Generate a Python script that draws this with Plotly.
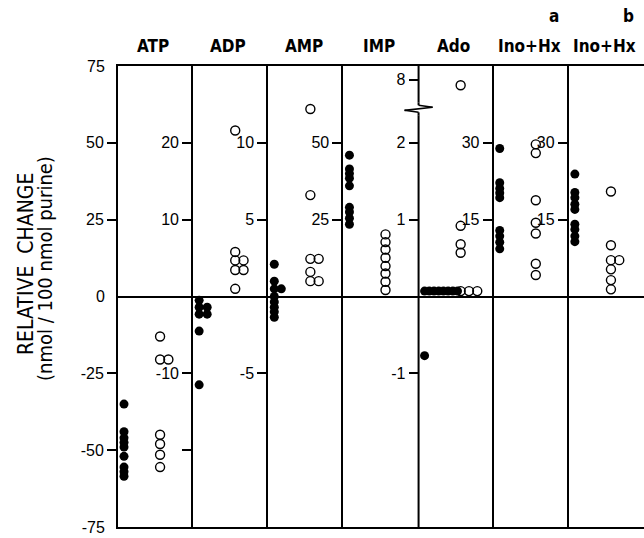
import plotly.graph_objects as go
from plotly.subplots import make_subplots

# ---------------- data (each panel read on its own scale) ----------------
panel_names = ["ATP", "ADP", "AMP", "IMP", "Ado", "Ino+Hx", "Ino+Hx"]
panel_tags = ["", "", "", "", "", "a", "b"]
# half-range of each panel's own y scale (all panels share the same height)
panel_half_range = [75, 30, 15, 75, 3, 45, 45]

atp_filled = [-35, -44, -46, -47.5, -49, -52, -55.5, -57, -58.5]
atp_open = [-13, -20.5, -20.5, -45, -48, -51.5, -55.5]

adp_filled = [-0.5, -1.4, -1.4, -2.3, -2.3, -4.5, -11.5]
adp_open = [21.6, 5.8, 4.7, 4.7, 3.45, 3.45, 1.0]

amp_filled = [2.1, 1.0, 0.5, 0.5, 0.0, -0.35, -0.7, -1.0, -1.35]
amp_open = [12.2, 6.6, 2.45, 2.45, 1.6, 1.0, 1.0]

imp_filled = [46, 41.5, 40, 38.5, 36, 29, 27.5, 25.5, 23.5]
imp_open = [20.2, 17.7, 15.3, 12.6, 9.9, 7.5, 4.8, 2.1]

ado_filled = [0.07, 0.07, 0.07, 0.07, 0.07, 0.07, 0.07, 0.07, -0.77]
ado_open = [7.0, 0.92, 0.68, 0.57, 0.07, 0.07, 0.07]

inoa_filled = [28.9, 22.2, 21.1, 20.2, 19.3, 12.9, 11.8, 10.6, 9.3]
inoa_open = [29.7, 28.0, 18.8, 14.4, 12.3, 6.4, 4.2]

inob_filled = [23.9, 20.3, 19.3, 18.0, 17.0, 14.1, 13.1, 11.8, 10.7]
inob_open = [20.5, 10.0, 7.1, 7.1, 5.3, 3.2, 1.4]

filled_sets = [atp_filled, adp_filled, amp_filled, imp_filled, ado_filled, inoa_filled, inob_filled]
open_sets = [atp_open, adp_open, amp_open, imp_open, ado_open, inoa_open, inob_open]

tick_values = [[-50, -25, 25, 50], [-20, -10, 10, 20], [-5, 5, 10], [25, 50],
               [-1, 1, 2, 8], [15, 30], [15, 30]]
tick_labels = [["-50", "-25", "25", "50"], ["", "-10", "10", "20"], ["-5", "5", "10"],
               ["25", "50"], ["-1", "1", "2", "8"], ["15", "30"], ["15", "30"]]
main_extra_ticks = [-75, 0, 75]
main_extra_labels = ["-75", "0", "75"]

# ---------------- style ----------------
FONT = "Liberation Sans, Arial, Helvetica, sans-serif"
TITLE_FONT = "DejaVu Sans Condensed, Liberation Sans, Arial, sans-serif"
PANEL_W = 75.0           # x range of each panel (pixel-like units)
FILLED_X, OPEN_X = 6.0, 42.0
FILLED_STEP = [8, 8, 7, 8, 4.7, 8, 8]
OPEN_STEP = 8.3
TICKLEN = 9
W, H = 644, 538
ML, MR, MT, MB = 118, 0, 66, 11

# Ado panel: broken axis, values above the break on a compressed segment
ADO_BREAK = 2.4


def to_axis(panel, v):
    if panel == 4 and v > ADO_BREAK:
        return 2.82 + (v - 8) * 0.07
    return v


def dodge(vals, base, step):
    seen = {}
    xs = []
    for v in vals:
        k = seen.get(v, 0)
        seen[v] = k + 1
        xs.append(base + k * step)
    return xs


def px_x(p):
    return (p - ML) / (W - ML - MR)


def px_y(p):
    return (H - MB - p) / (H - MB - MT)


fig = make_subplots(rows=1, cols=7, horizontal_spacing=0)

for i in range(7):
    col = i + 1
    fv, ov = filled_sets[i], open_sets[i]
    fig.add_trace(go.Scatter(
        x=dodge(fv, FILLED_X, FILLED_STEP[i]), y=[to_axis(i, v) for v in fv],
        mode="markers", showlegend=False, cliponaxis=False,
        marker=dict(symbol="circle", size=9, color="black")), row=1, col=col)
    fig.add_trace(go.Scatter(
        x=dodge(ov, OPEN_X, OPEN_STEP), y=[to_axis(i, v) for v in ov],
        mode="markers", showlegend=False, cliponaxis=False,
        marker=dict(symbol="circle-open", size=9, color="black", line=dict(width=1.4))),
        row=1, col=col)

    h = panel_half_range[i]
    fig.update_yaxes(
        range=[-h, h], tickvals=[to_axis(i, v) for v in tick_values[i]], ticktext=tick_labels[i],
        ticks="outside", ticklen=TICKLEN, tickwidth=1.6, tickcolor="black",
        showline=(i != 4), linewidth=2, linecolor="black", mirror=False,
        zeroline=True, zerolinewidth=2, zerolinecolor="black", showgrid=False,
        tickfont=dict(family=FONT, size=16, color="black"), row=1, col=col)
    fig.update_xaxes(
        range=[0, PANEL_W], showline=True, mirror=True, linewidth=2, linecolor="black",
        showticklabels=False, ticks="", showgrid=False, zeroline=False, row=1, col=col)

    # panel header
    fig.add_annotation(text="<b>%s</b>" % panel_names[i], xref="x%s domain" % ("" if col == 1 else col),
                       x=0.47, yref="paper", y=px_y(46), showarrow=False, xanchor="center", yanchor="middle",
                       font=dict(family=TITLE_FONT, size=17, color="black"))
    if panel_tags[i]:
        fig.add_annotation(text="<b>%s</b>" % panel_tags[i], xref="x%d domain" % col,
                           x=0.8, yref="paper", y=px_y(16), showarrow=False,
                           xanchor="center", yanchor="middle",
                           font=dict(family=TITLE_FONT, size=17, color="black"))

# label-only ticks of the main scale (0 and the ends)
fig.add_trace(go.Scatter(x=[None], y=[None], xaxis="x", yaxis="y8", showlegend=False))
fig.update_layout(yaxis8=dict(
    overlaying="y", anchor="x", side="left", range=[-75, 75],
    tickvals=main_extra_ticks, ticktext=main_extra_labels, ticks="outside", ticklen=TICKLEN,
    tickcolor="rgba(0,0,0,0)", showline=False, showgrid=False, zeroline=False,
    tickfont=dict(family=FONT, size=16, color="black")))

# Ado broken axis line with zigzag
seg = [(0, 3), (0, 2.528), (0, 2.489), (0.187, 2.463), (-0.187, 2.423), (0, 2.397), (0, 2.358), (0, -3)]
for (xa, ya), (xb, yb) in zip(seg[:-1], seg[1:]):
    fig.add_shape(type="line", xref="x5 domain", yref="y5", x0=xa, y0=ya, x1=xb, y1=yb,
                  line=dict(color="black", width=2 if xa == xb else 1.6))

# y-axis title
fig.add_annotation(text="RELATIVE  CHANGE", xref="paper", x=px_x(26), yref="paper",
                   y=px_y(264), textangle=-90, showarrow=False, xanchor="center", yanchor="middle",
                   font=dict(family=TITLE_FONT, size=21, color="black"))
fig.add_annotation(text="(nmol / 100 nmol purine)", xref="paper", x=px_x(45), yref="paper",
                   y=px_y(269), textangle=-90, showarrow=False, xanchor="center", yanchor="middle",
                   font=dict(family=TITLE_FONT, size=20, color="black"))

fig.update_layout(width=W, height=H, autosize=False, plot_bgcolor="white", paper_bgcolor="white",
                  margin=dict(l=ML, r=MR, t=MT, b=MB))

fig.write_html("out.html", config={"displayModeBar": False},
               post_script="document.body.style.margin='0';")
